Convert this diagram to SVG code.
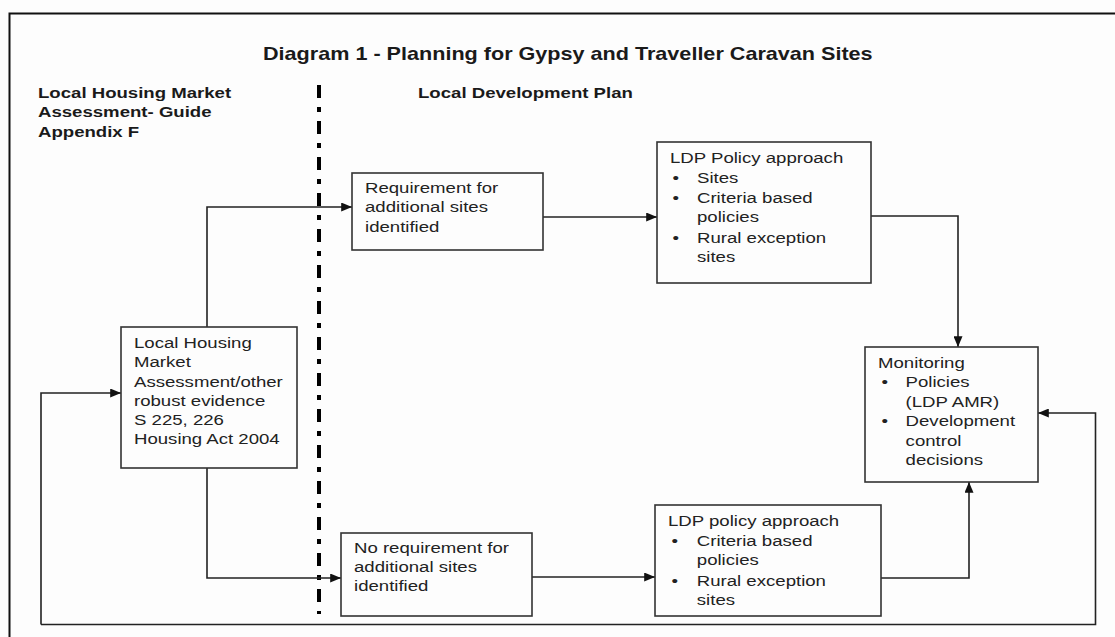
<svg xmlns="http://www.w3.org/2000/svg" width="1115" height="637" viewBox="0 0 1115 637">
<style>
.t{font-family:"Liberation Sans",Arial,sans-serif;font-size:15.5px;fill:#222}
.b{font-family:"Liberation Sans",Arial,sans-serif;font-weight:bold;fill:#1a1a1a}
.box{fill:none;stroke:#333;stroke-width:1.6}
.c{fill:none;stroke:#222;stroke-width:1.6}
</style>
<defs>
<marker id="ah" viewBox="0 0 12 10" refX="12" refY="5" markerWidth="12" markerHeight="9" markerUnits="userSpaceOnUse" orient="auto">
<path d="M0,0 L12,5 L0,10 z" fill="#111"/>
</marker>
</defs>
<rect width="1115" height="637" fill="#fdfdfd"/>
<g id="frame">
<path d="M9.5,637 V13.5 H1115" fill="none" stroke="#111" stroke-width="2"/>
</g>
<g id="title">
<g transform="translate(263,0) scale(1.2,1)"><text class="b" x="0" y="60" font-size="18">Diagram 1 - Planning for Gypsy and Traveller Caravan Sites</text></g>
</g>
<g id="header-left">
<g transform="translate(38,0) scale(1.2,1)"><text class="b" font-size="15.5"><tspan x="0" y="98">Local Housing Market</tspan><tspan x="0" y="117.5">Assessment- Guide</tspan><tspan x="0" y="137">Appendix F</tspan></text></g>
</g>
<g id="header-right">
<g transform="translate(418,0) scale(1.2,1)"><text class="b" font-size="15.5" x="0" y="98">Local Development Plan</text></g>
</g>
<g id="divider">
<line x1="319" y1="85" x2="319" y2="614" stroke="#000" stroke-width="4" stroke-dasharray="13 9 5 9"/>
</g>
<g id="connectors">
<path class="c" d="M207,327 V207 H352" marker-end="url(#ah)"/>
<path class="c" d="M207,468 V578 H341" marker-end="url(#ah)"/>
<path class="c" d="M543,217 H657" marker-end="url(#ah)"/>
<path class="c" d="M532,577 H655" marker-end="url(#ah)"/>
<path class="c" d="M871,216 H958 V347" marker-end="url(#ah)"/>
<path class="c" d="M881,578 H969 V482" marker-end="url(#ah)"/>
<path class="c" d="M41,624.5 H1095.5 V413 H1038" marker-end="url(#ah)"/>
<path class="c" d="M41,624.5 V393 H121" marker-end="url(#ah)"/>
</g>
<g id="lhma">
<rect class="box" x="121" y="327" width="176" height="141"/>
<g transform="translate(134,0) scale(1.2,1)"><text class="t"><tspan x="0" y="348">Local Housing</tspan><tspan x="0" y="367.3">Market</tspan><tspan x="0" y="386.6">Assessment/other</tspan><tspan x="0" y="405.9">robust evidence</tspan><tspan x="0" y="425.2">S 225, 226</tspan><tspan x="0" y="444.5">Housing Act 2004</tspan></text></g>
</g>
<g id="req">
<rect class="box" x="352" y="173" width="191" height="77"/>
<g transform="translate(365,0) scale(1.2,1)"><text class="t"><tspan x="0" y="193">Requirement for</tspan><tspan x="0" y="212.5">additional sites</tspan><tspan x="0" y="232">identified</tspan></text></g>
</g>
<g id="noreq">
<rect class="box" x="341" y="533" width="191" height="83"/>
<g transform="translate(354,0) scale(1.2,1)"><text class="t"><tspan x="0" y="553">No requirement for</tspan><tspan x="0" y="572">additional sites</tspan><tspan x="0" y="591">identified</tspan></text></g>
</g>
<g id="ldp-upper">
<rect class="box" x="657" y="142" width="214" height="141"/>
<g transform="translate(670,0) scale(1.2,1)"><text class="t"><tspan x="0" y="163">LDP Policy approach</tspan><tspan x="2" y="183">•</tspan><tspan x="22.5" y="183">Sites</tspan><tspan x="2" y="203">•</tspan><tspan x="22.5" y="203">Criteria based</tspan><tspan x="22.5" y="222.5">policies</tspan><tspan x="2" y="243">•</tspan><tspan x="22.5" y="243">Rural exception</tspan><tspan x="22.5" y="262">sites</tspan></text></g>
</g>
<g id="ldp-lower">
<rect class="box" x="655" y="505" width="226" height="111"/>
<g transform="translate(668,0) scale(1.2,1)"><text class="t"><tspan x="0" y="526">LDP policy approach</tspan><tspan x="3" y="546">•</tspan><tspan x="24" y="546">Criteria based</tspan><tspan x="24" y="565.5">policies</tspan><tspan x="3" y="586">•</tspan><tspan x="24" y="586">Rural exception</tspan><tspan x="24" y="605">sites</tspan></text></g>
</g>
<g id="monitoring">
<rect class="box" x="865" y="347" width="173" height="135"/>
<g transform="translate(878,0) scale(1.2,1)"><text class="t"><tspan x="0" y="368">Monitoring</tspan><tspan x="3" y="387.5">•</tspan><tspan x="23" y="387.5">Policies</tspan><tspan x="23" y="407">(LDP AMR)</tspan><tspan x="3" y="426.5">•</tspan><tspan x="23" y="426.5">Development</tspan><tspan x="23" y="446">control</tspan><tspan x="23" y="465.5">decisions</tspan></text></g>
</g>
</svg>
